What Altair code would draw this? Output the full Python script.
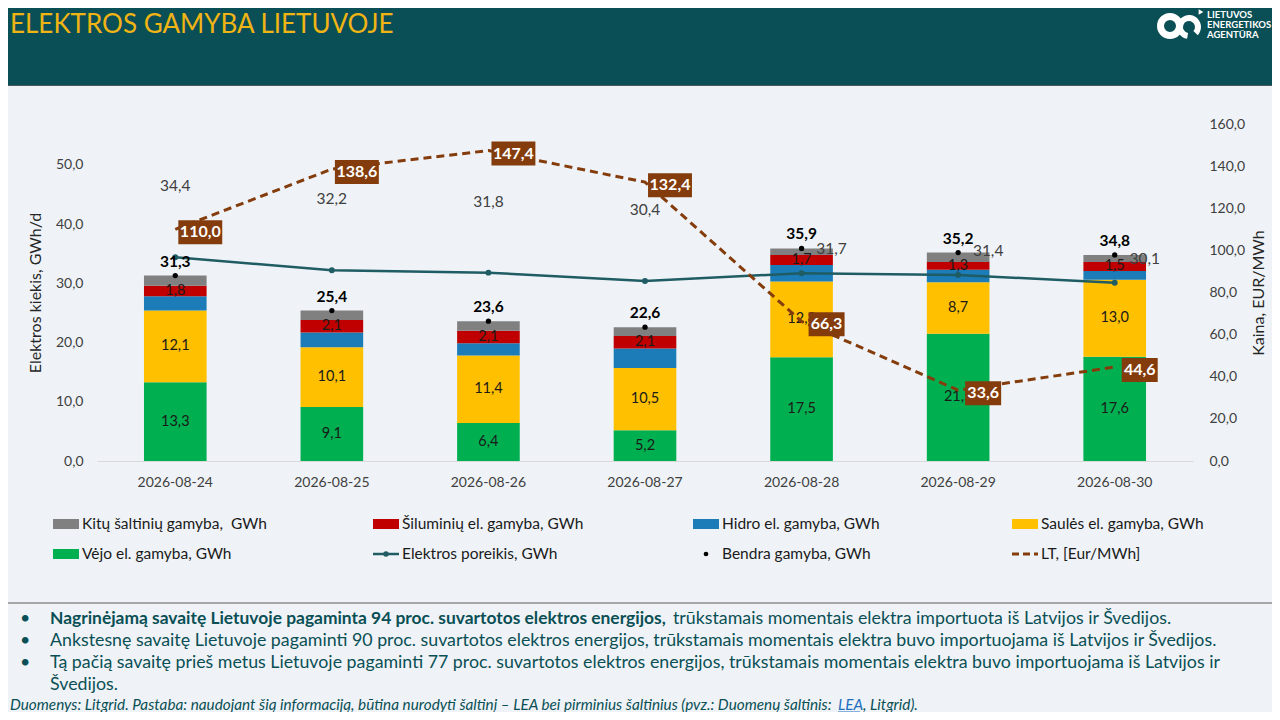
import altair as alt
import pandas as pd

# duomenys
dates = ["2026-08-24", "2026-08-25", "2026-08-26", "2026-08-27",
         "2026-08-28", "2026-08-29", "2026-08-30"]
vejo = [13.3, 9.1, 6.4, 5.2, 17.5, 21.5, 17.6]
saules = [12.1, 10.1, 11.4, 10.5, 12.8, 8.7, 13.0]
hidro = [2.4, 2.5, 2.1, 3.3, 2.8, 2.1, 1.5]
siluminiu = [1.8, 2.1, 2.1, 2.1, 1.7, 1.3, 1.5]
kitu = [1.7, 1.6, 1.6, 1.5, 1.1, 1.6, 1.2]
bendra = [31.3, 25.4, 23.6, 22.6, 35.9, 35.2, 34.8]
poreikis = [34.4, 32.2, 31.8, 30.4, 31.7, 31.4, 30.1]
kaina = [110.0, 138.6, 147.4, 132.4, 66.3, 33.6, 44.6]

sources = ["Vėjo el. gamyba, GWh", "Saulės el. gamyba, GWh", "Hidro el. gamyba, GWh",
           "Šiluminių el. gamyba, GWh", "Kitų šaltinių gamyba,\u00a0 GWh"]
colors = ["#00b050", "#ffc000", "#1b7cb8", "#c00000", "#808080"]
labeled = [True, True, False, True, False]

series = [vejo, saules, hidro, siluminiu, kitu]
rows = []
for i, (name, vals) in enumerate(zip(sources, series)):
    for d, v in zip(dates, vals):
        rows.append({"date": d, "source": name, "value": v, "order": i, "labeled": labeled[i]})
long_df = pd.DataFrame(rows)

df = pd.DataFrame({"date": dates, "bendra": bendra, "poreikis": poreikis, "kaina": kaina})
one = pd.DataFrame({"k": [0]})

FONT = "Lato"
TEAL = "#0a4f55"
BROWN = "#843c0c"
DEMAND = "#1f5c63"
OX, OY = 97, 124  # plot area top-left on the page

fmt = "replace(format({}, '.1f'), '.', ',')"

x_enc = alt.X("date:N", sort=dates, title=None,
              scale=alt.Scale(paddingInner=0.6, paddingOuter=0.3),
              axis=alt.Axis(labelAngle=0, ticks=False, domainColor="#d9d9d9", domainWidth=1,
                            labelPadding=14, labelFontSize=14, labelColor="#404040", labelFont=FONT))
left_scale = alt.Scale(domain=[0, 56.9], nice=False)
right_scale = alt.Scale(domain=[0, 160], nice=False)
left_axis = alt.Axis(values=[0, 10, 20, 30, 40, 50], labelExpr=fmt.format("datum.value"),
                     title="Elektros kiekis, GWh/d", grid=False, domain=False, ticks=False,
                     labelPadding=14, labelFontSize=14, labelColor="#404040", labelFont=FONT,
                     titleFontSize=16, titleFontWeight="normal", titleColor="#262626",
                     titleFont=FONT, titlePadding=12)
right_axis = alt.Axis(orient="right", values=list(range(0, 161, 20)), labelExpr=fmt.format("datum.value"),
                      title="Kaina, EUR/MWh", grid=False, domain=False, ticks=False,
                      labelPadding=16, labelFontSize=14, labelColor="#404040", labelFont=FONT,
                      titleFontSize=16, titleFontWeight="normal", titleColor="#262626",
                      titleFont=FONT, titlePadding=6, titleAngle=270, titleBaseline="top")


def txt(s, x, y, size, color, weight="normal", style="normal", align="left"):
    return alt.Chart(one).mark_text(
        text=s, align=align, baseline="middle", fontSize=size, color=color,
        fontWeight=weight, fontStyle=style, font=FONT
    ).encode(x=alt.value(x - OX), y=alt.value(y - OY))


def box(x1, x2, y1, y2, color):
    return alt.Chart(one).mark_rect(color=color).encode(
        x=alt.value(x1 - OX), x2=alt.value(x2 - OX), y=alt.value(y1 - OY), y2=alt.value(y2 - OY))


def hline(x1, x2, y, color, width, dash=None):
    kw = {"strokeDash": dash} if dash else {}
    return alt.Chart(one).mark_rule(color=color, strokeWidth=width, **kw).encode(
        x=alt.value(x1 - OX), x2=alt.value(x2 - OX), y=alt.value(y - OY))


# header
header = alt.layer(
    box(8, 1272, 8, 85, TEAL),
    hline(8, 1272, 85.5, "#4a5a5c", 1),
    hline(8, 1272, 603, "#a6a6a6", 2),
    txt("ELEKTROS GAMYBA LIETUVOJE", 10, 25, 26, "#f0b414"),
    alt.Chart(one).mark_arc(radius=13, radius2=6, theta=0, theta2=6.2832, color="white").encode(
        x=alt.value(1170 - OX), y=alt.value(26 - OY)),
    alt.Chart(one).mark_arc(radius=12, radius2=6, theta=3.3, theta2=8.6, color="white").encode(
        x=alt.value(1189 - OX), y=alt.value(27 - OY)),
    alt.Chart(one).mark_point(shape="triangle-right", filled=True, size=30, color="white", opacity=1).encode(
        x=alt.value(1201 - OX), y=alt.value(12 - OY)),
    txt("LIETUVOS", 1207, 15, 9.5, "white", "bold"),
    txt("ENERGETIKOS", 1207, 25, 9.5, "white", "bold"),
    txt("AGENTŪRA", 1207, 35, 9.5, "white", "bold"),
)

# bars
bars = alt.Chart(long_df).mark_bar().encode(
    x=x_enc,
    y=alt.Y("value:Q", stack="zero", scale=left_scale, axis=left_axis),
    color=alt.Color("source:N", scale=alt.Scale(domain=sources, range=colors), legend=None),
    order=alt.Order("order:Q"),
)

seg_lbl = alt.Chart(long_df).transform_stack(
    stack="value", as_=["y0", "y1"], groupby=["date"], sort=[alt.SortField("order", order="ascending")]
).transform_filter("datum.labeled").transform_calculate(
    mid="(datum.y0 + datum.y1) / 2", lbl=fmt.format("datum.value")
).mark_text(fontSize=14.5, color="#1a1a1a", font=FONT).encode(
    x=x_enc, y=alt.Y("mid:Q", scale=left_scale, axis=left_axis), text="lbl:N")

base = alt.Chart(df).transform_calculate(
    dlbl=fmt.format("datum.poreikis"), tlbl=fmt.format("datum.bendra"), plbl=fmt.format("datum.kaina"))

y_dem = alt.Y("poreikis:Q", scale=left_scale, axis=left_axis)
y_tot = alt.Y("bendra:Q", scale=left_scale, axis=left_axis)
y_pr = alt.Y("kaina:Q", scale=right_scale, axis=right_axis)

dem_line = base.mark_line(color=DEMAND, strokeWidth=2.5).encode(x=x_enc, y=y_dem)
dem_pts = base.mark_point(filled=True, size=35, color=DEMAND, opacity=1).encode(x=x_enc, y=y_dem)
dem_lbl_hi = base.transform_filter("datum.bendra < datum.poreikis").mark_text(
    fontSize=15.5, color="#404040", font=FONT, dy=-71).encode(x=x_enc, y=y_dem, text="dlbl:N")
dem_lbl_rt = base.transform_filter("datum.bendra >= datum.poreikis").mark_text(
    fontSize=15.5, color="#404040", font=FONT, dx=30, dy=-24).encode(x=x_enc, y=y_dem, text="dlbl:N")

tot_pts = base.mark_point(filled=True, size=28, color="black", opacity=1).encode(x=x_enc, y=y_tot)
tot_lbl = base.mark_text(fontSize=15.5, fontWeight="bold", color="black", font=FONT, dy=-14).encode(
    x=x_enc, y=y_tot, text="tlbl:N")

left = alt.layer(bars, seg_lbl, dem_line, dem_pts, dem_lbl_hi, dem_lbl_rt, tot_pts, tot_lbl)

path5 = "M-1.83,-1L1.83,-1L1.83,1L-1.83,1Z"
path4 = "M-1.5,-1L1.5,-1L1.5,1L-1.5,1Z"
price_line = base.mark_line(color=BROWN, strokeWidth=3, strokeDash=[8, 5]).encode(x=x_enc, y=y_pr)
price_box = base.mark_point(filled=True, size=576, color=BROWN, opacity=1, xOffset=25, yOffset=3).encode(
    x=x_enc, y=y_pr,
    shape=alt.condition("length(datum.plbl) > 4", alt.value(path5), alt.value(path4)))
price_lbl = base.mark_text(fontSize=16, fontWeight="bold", color="white", font=FONT, dx=25, dy=3).encode(
    x=x_enc, y=y_pr, text="plbl:N")

right = alt.layer(price_line, price_box, price_lbl)

# legend
LS = 15.5
leg_x = [53, 373, 693, 1012]
row1, row2 = 524, 554
legend = alt.layer(
    box(leg_x[0], leg_x[0] + 26, row1 - 5, row1 + 5, colors[4]),
    txt(sources[4], leg_x[0] + 29, row1, LS, "#1a1a1a"),
    box(leg_x[1], leg_x[1] + 26, row1 - 5, row1 + 5, colors[3]),
    txt(sources[3], leg_x[1] + 29, row1, LS, "#1a1a1a"),
    box(leg_x[2], leg_x[2] + 26, row1 - 5, row1 + 5, colors[2]),
    txt(sources[2], leg_x[2] + 29, row1, LS, "#1a1a1a"),
    box(leg_x[3], leg_x[3] + 26, row1 - 5, row1 + 5, colors[1]),
    txt(sources[1], leg_x[3] + 29, row1, LS, "#1a1a1a"),
    box(leg_x[0], leg_x[0] + 26, row2 - 5, row2 + 5, colors[0]),
    txt(sources[0], leg_x[0] + 29, row2, LS, "#1a1a1a"),
    hline(leg_x[1], leg_x[1] + 26, row2, DEMAND, 2.5),
    alt.Chart(one).mark_point(filled=True, size=30, color=DEMAND, opacity=1).encode(
        x=alt.value(leg_x[1] + 13 - OX), y=alt.value(row2 - OY)),
    txt("Elektros poreikis, GWh", leg_x[1] + 29, row2, LS, "#1a1a1a"),
    alt.Chart(one).mark_point(filled=True, size=22, color="black", opacity=1).encode(
        x=alt.value(leg_x[2] + 13 - OX), y=alt.value(row2 - OY)),
    txt("Bendra gamyba, GWh", leg_x[2] + 29, row2, LS, "#1a1a1a"),
    hline(leg_x[3], leg_x[3] + 26, row2, BROWN, 3, [7, 4]),
    txt("LT, [Eur/MWh]", leg_x[3] + 29, row2, LS, "#1a1a1a"),
)

# komentarai
NS = 17.8
BS = 17.4
FS = 15.3
notes = alt.layer(
    txt("•", 20, 619, NS, TEAL),
    txt("Nagrinėjamą savaitę Lietuvoje pagaminta 94 proc. suvartotos elektros energijos,", 50, 619, BS, TEAL, "bold"),
    txt("trūkstamais momentais elektra importuota iš Latvijos ir Švedijos.", 673, 619, NS, TEAL),
    txt("•", 20, 641, NS, TEAL),
    txt("Ankstesnę savaitę Lietuvoje pagaminti 90 proc. suvartotos elektros energijos, trūkstamais momentais "
        "elektra buvo importuojama iš Latvijos ir Švedijos.", 50, 641, NS, TEAL),
    txt("•", 20, 663, NS, TEAL),
    txt("Tą pačią savaitę prieš metus Lietuvoje pagaminti 77 proc. suvartotos elektros energijos, "
        "trūkstamais momentais elektra buvo importuojama iš Latvijos ir", 50, 663, NS, TEAL),
    txt("Švedijos.", 50, 685, NS, TEAL),
    txt("Duomenys: Litgrid. Pastaba: naudojant šią informaciją, būtina nurodyti šaltinį – LEA bei pirminius "
        "šaltinius (pvz.: Duomenų šaltinis:", 10, 705, FS, TEAL, style="italic"),
    txt("LEA", 838, 705, FS, "#1f6fc0", style="italic"),
    hline(838, 860, 712, "#1f6fc0", 1),
    txt(", Litgrid).", 863, 705, FS, TEAL, style="italic"),
)

chart = alt.layer(header, left, right, legend, notes).resolve_scale(y="independent").properties(
    width=1096, height=337,
    autosize=alt.AutoSizeParams(type="none"),
    padding={"left": OX - 8, "top": OY - 8, "right": 1272 - OX - 1096, "bottom": 712 - OY - 337},
    background="#eff3f7",
).configure_view(strokeWidth=0)

chart.save("out.html", embed_options={"renderer": "svg", "actions": False})
